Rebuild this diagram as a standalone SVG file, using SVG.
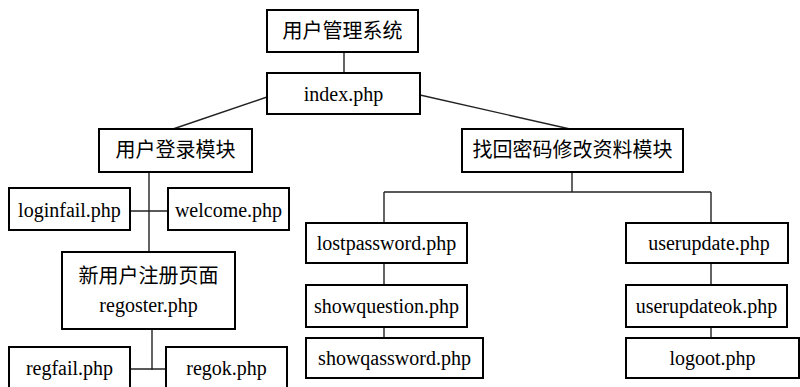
<svg xmlns="http://www.w3.org/2000/svg" width="800" height="387" viewBox="0 0 800 387">
<style>
rect{fill:#fff;stroke:#000;stroke-width:2}
text{font-size:20px;fill:#000;text-anchor:middle;dominant-baseline:central}
#connectors line{stroke:#222;stroke-width:1.4}
</style>
<rect x="0" y="0" width="800" height="387" style="stroke:none"/>
<g id="connectors">
<line x1="344" y1="52" x2="344" y2="73"/>
<line x1="267" y1="97" x2="173" y2="129"/>
<line x1="420" y1="95" x2="570" y2="129"/>
<line x1="149" y1="172" x2="149" y2="252"/>
<line x1="130" y1="211" x2="168" y2="211"/>
<line x1="152" y1="329" x2="152" y2="370"/>
<line x1="130" y1="369" x2="166" y2="369"/>
<line x1="572" y1="172" x2="572" y2="192"/>
<line x1="384" y1="192" x2="711" y2="192"/>
<line x1="384" y1="192" x2="384" y2="223"/>
<line x1="711" y1="192" x2="711" y2="223"/>
<line x1="384" y1="263" x2="384" y2="285"/>
<line x1="384" y1="327" x2="384" y2="338"/>
<line x1="711" y1="263" x2="711" y2="285"/>
<line x1="711" y1="327" x2="711" y2="338"/>
</g>
<g id="nodes" font-family="Liberation Serif, Noto Sans CJK SC, serif">
<g id="n-system"><rect x="267" y="10" width="151" height="42"/><text x="342.5" y="31" font-size="18.5">用户管理系统</text></g>
<g id="n-index"><rect x="267" y="73" width="153" height="41"/><text x="343.5" y="94">index.php</text></g>
<g id="n-login"><rect x="99" y="129" width="153" height="43"/><text x="175.5" y="150" font-size="18.5">用户登录模块</text></g>
<g id="n-find"><rect x="462" y="129" width="221" height="43"/><text x="572.5" y="150" font-size="18.5">找回密码修改资料模块</text></g>
<g id="n-loginfail"><rect x="9" y="188" width="121" height="42"/><text x="69.5" y="210">loginfail.php</text></g>
<g id="n-welcome"><rect x="168" y="188" width="121" height="42"/><text x="228.5" y="210">welcome.php</text></g>
<g id="n-register"><rect x="62" y="252" width="173" height="77"/><text x="148.5" y="276" font-size="18.5">新用户注册页面</text><text x="148.5" y="305">regoster.php</text></g>
<g id="n-regfail"><rect x="9" y="347" width="121" height="48"/><text x="69.5" y="368">regfail.php</text></g>
<g id="n-regok"><rect x="166" y="347" width="121" height="48"/><text x="226.5" y="368">regok.php</text></g>
<g id="n-lostpassword"><rect x="306" y="223" width="161" height="40"/><text x="386.5" y="243">lostpassword.php</text></g>
<g id="n-showquestion"><rect x="306" y="285" width="161" height="42"/><text x="386.5" y="306">showquestion.php</text></g>
<g id="n-showqassword"><rect x="306" y="338" width="177" height="40"/><text x="394.5" y="358">showqassword.php</text></g>
<g id="n-userupdate"><rect x="626" y="223" width="162" height="40"/><text x="709" y="243">userupdate.php</text></g>
<g id="n-userupdateok"><rect x="626" y="285" width="161" height="42"/><text x="706.5" y="306">userupdateok.php</text></g>
<g id="n-logoot"><rect x="626" y="338" width="173" height="40"/><text x="712.5" y="358">logoot.php</text></g>
</g>
</svg>
